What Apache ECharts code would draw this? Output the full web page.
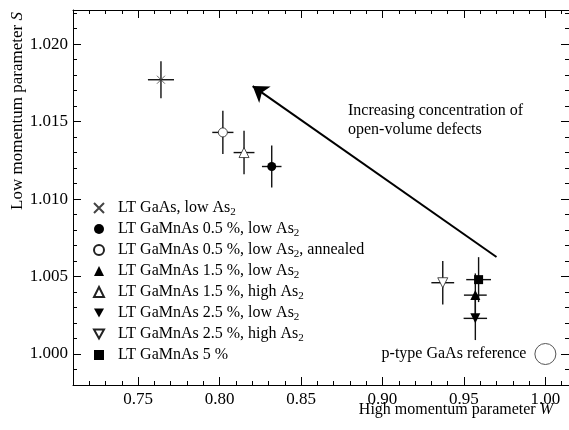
<!DOCTYPE html>
<html><head><meta charset="utf-8">
<script src="https://cdn.jsdelivr.net/npm/echarts@6/dist/echarts.min.js"></script>
<style>html,body{margin:0;padding:0;background:#fff}#c{width:569px;height:430px}</style>
</head><body><div id="c"></div>
<script>
// ---- data ----
const seriesNames = ['LT GaAs, low As2', 'LT GaMnAs 0.5 %, low As2', 'LT GaMnAs 0.5 %, low As2, annealed',
  'LT GaMnAs 1.5 %, low As2', 'LT GaMnAs 1.5 %, high As2', 'LT GaMnAs 2.5 %, low As2',
  'LT GaMnAs 2.5 %, high As2', 'LT GaMnAs 5 %'];
const W  = [0.764, 0.832, 0.802, 0.957, 0.815, 0.957, 0.937, 0.959];
const S  = [1.0177, 1.0121, 1.0143, 1.0038, 1.0130, 1.0023, 1.0046, 1.0048];
const dW = [0.008, 0.006, 0.0065, 0.007, 0.0064, 0.0072, 0.007, 0.0076];
const dS = [0.0012, 0.00135, 0.0014, 0.0014, 0.0014, 0.0014, 0.0014, 0.00145];
const refPoint = [1.000, 1.000];
const refLabel = 'p-type GaAs reference';
const arrowStart = [0.970, 1.00626];
const arrowEnd = [0.8203, 1.01729];
const xTicks = [0.75, 0.80, 0.85, 0.90, 0.95, 1.00];
const yTicks = [1.000, 1.005, 1.010, 1.015, 1.020];
const xRange = [0.71, 1.0145];
const yRange = [0.998, 1.0222];

const FF = 'Liberation Serif';
const BLK = '#000';
const symbols = [
  {symbol: 'path://M0,0L10,10M10,0L0,10', size: 8, fill: '#444', border: '#444', bw: 0.8},
  {symbol: 'circle', size: 9, fill: BLK, border: BLK, bw: 0},
  {symbol: 'circle', size: 9, fill: '#fff', border: '#222', bw: 0.8},
  {symbol: 'triangle', size: 10, fill: BLK, border: BLK, bw: 0},
  {symbol: 'triangle', size: 10, fill: '#fff', border: '#222', bw: 0.8},
  {symbol: 'path://M0,0L10,0L5,9Z', size: 10, fill: BLK, border: BLK, bw: 0},
  {symbol: 'path://M0,0L10,0L5,9Z', size: 10, fill: '#fff', border: '#222', bw: 0.8},
  {symbol: 'rect', size: 9, fill: BLK, border: BLK, bw: 0}
];

const errData = W.map((w, i) => [w, S[i], dW[i], dS[i]]);

const series = [{
  type: 'custom', name: 'err', z: 1, silent: true,
  data: errData, encode: {x: 0, y: 1},
  renderItem: function (params, api) {
    const x = api.value(0), y = api.value(1), ex = api.value(2), ey = api.value(3);
    const l = api.coord([x - ex, y]), r = api.coord([x + ex, y]);
    const t = api.coord([x, y + ey]), b = api.coord([x, y - ey]);
    const st = {stroke: '#111', lineWidth: 1.4};
    return {type: 'group', children: [
      {type: 'line', shape: {x1: l[0], y1: l[1], x2: r[0], y2: r[1]}, style: st},
      {type: 'line', shape: {x1: t[0], y1: t[1], x2: b[0], y2: b[1]}, style: st}
    ]};
  }
}];
seriesNames.forEach((n, i) => {
  const s = symbols[i];
  series.push({
    type: 'scatter', name: n, z: 3, silent: true,
    symbol: s.symbol, symbolSize: s.size,
    itemStyle: {color: s.fill, borderColor: s.border, borderWidth: s.bw, opacity: 1},
    data: [[W[i], S[i]]]
  });
});
series.push({
  type: 'custom', name: 'ref', z: 3, silent: true,
  data: [refPoint], encode: {x: 0, y: 1},
  renderItem: function (params, api) {
    const p = api.coord([api.value(0), api.value(1)]);
    return {type: 'group', children: [
      {type: 'circle', shape: {cx: p[0], cy: p[1], r: 10.5}, style: {fill: '#fff', stroke: '#555', lineWidth: 1}},
      {type: 'text', x: p[0] - 19, y: p[1], style: {text: refLabel, fontFamily: FF, fontSize: 16,
        fill: '#000', textAlign: 'right', textVerticalAlign: 'middle'}}
    ]};
  }
});
series.push({
  type: 'lines', coordinateSystem: 'cartesian2d', z: 2, silent: true,
  symbol: ['none', 'arrow'], symbolSize: [0, 15],
  lineStyle: {color: BLK, width: 2, opacity: 1},
  data: [{coords: [arrowStart, arrowEnd]}]
});

function axisSet(pos, range, interval, major, isX, withLabels) {
  const base = {type: 'value', position: pos, min: range[0], max: range[1], splitLine: {show: false}};
  const maj = Object.assign({}, base, {
    axisLine: {show: true, onZero: false, lineStyle: {color: BLK, width: 1}},
    axisTick: {show: true, inside: true, length: 8, customValues: major, lineStyle: {color: BLK, width: 1}},
    axisLabel: withLabels ? {show: true, customValues: major, color: '#000', fontFamily: FF, fontSize: 17,
      margin: isX ? 6 : 5, formatter: v => Number(v).toFixed(isX ? 2 : 3)} : {show: false}
  });
  const minor = Object.assign({}, base, {
    interval: interval,
    axisLine: {show: false, onZero: false},
    axisTick: {show: true, inside: true, length: 4, lineStyle: {color: BLK, width: 1}},
    axisLabel: {show: false}
  });
  return [maj, minor];
}

const option = {
  animation: false,
  backgroundColor: '#fff',
  textStyle: {fontFamily: FF, color: '#000'},
  grid: {left: 73, top: 10, width: 497, height: 375, containLabel: false},
  xAxis: [...axisSet('bottom', xRange, 0.01, xTicks, true, true), ...axisSet('top', xRange, 0.01, xTicks, true, false)],
  yAxis: [...axisSet('left', yRange, 0.001, yTicks, false, true), ...axisSet('right', yRange, 0.001, yTicks, false, false)],
  legend: {
    data: seriesNames, orient: 'vertical', left: 93, top: 198, padding: 0,
    itemWidth: 10, itemHeight: 10, itemGap: 1,
    selectedMode: false,
    formatter: n => n.replace('As2', 'As{s|2}'),
    textStyle: {fontFamily: FF, fontSize: 16, color: BLK, lineHeight: 20, padding: [0, 0, 0, 9],
      rich: {s: {fontFamily: FF, fontSize: 11, lineHeight: 11, verticalAlign: 'bottom', color: BLK}}}
  },
  graphic: [
    {type: 'text', x: 348, y: 101, silent: true,
      style: {text: 'Increasing concentration of\nopen-volume defects', fontFamily: FF, fontSize: 16,
        lineHeight: 19, fill: BLK, textAlign: 'left', textVerticalAlign: 'top'}},
    {type: 'text', x: 553, y: 410, silent: true,
      style: {text: 'High momentum parameter {i|W}', fontFamily: FF, fontSize: 16, fill: BLK,
        textAlign: 'right', textVerticalAlign: 'middle',
        rich: {i: {fontFamily: FF, fontSize: 16, fontStyle: 'italic', fill: BLK}}}},
    {type: 'text', x: 18, y: 111, rotation: Math.PI / 2, silent: true,
      style: {text: 'Low momentum parameter {i|S}', fontFamily: FF, fontSize: 17, fill: BLK,
        textAlign: 'center', textVerticalAlign: 'middle',
        rich: {i: {fontFamily: FF, fontSize: 17, fontStyle: 'italic', fill: BLK}}}}
  ],
  series: series
};
option.series.forEach(s => { s.xAxisIndex = 0; s.yAxisIndex = 0; });
const chart = echarts.init(document.getElementById('c'), null, {renderer: 'canvas'});
chart.setOption(option);
</script></body></html>
